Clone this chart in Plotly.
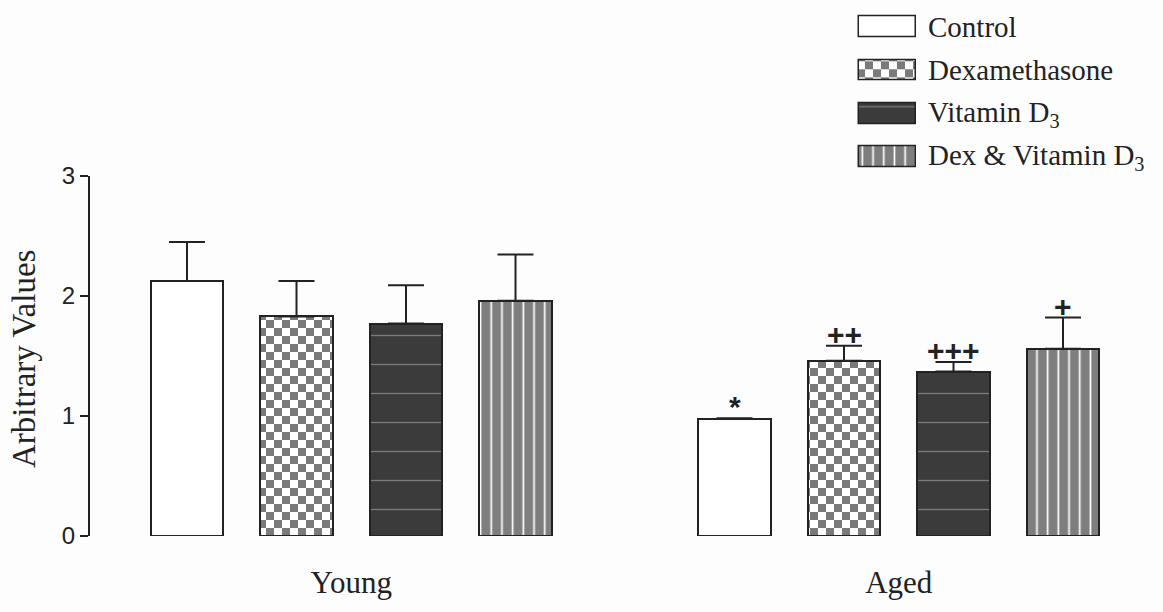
import plotly.graph_objects as go
from plotly.graph_objs.bar.marker import Pattern

# ---------------- data ----------------
groups = ["Young", "Aged"]
series = ["Control", "Dexamethasone", "Vitamin D<sub>3</sub>", "Dex &amp; Vitamin D<sub>3</sub>"]
young_mean = [2.125, 1.83, 1.77, 1.96]
young_err = [0.325, 0.295, 0.32, 0.385]
aged_mean = [0.975, 1.46, 1.37, 1.56]
aged_err = [0.006, 0.125, 0.08, 0.26]
aged_marks = ["*", "++", "+++", "+"]
young_marks = ["", "", "", ""]
y_ticks = [0, 1, 2, 3]
y_title = "Arbitrary Values"

means = [young_mean, aged_mean]
errs = [young_err, aged_err]
marks = [young_marks, aged_marks]

# ---------------- styles ----------------
W, H = 1163, 612
INK = "#222222"
BG = "#fdfdfd"
HAS_PATH = "path" in getattr(Pattern, "_valid_props", set())

checker = dict(shape=".", fgcolor="#7a7a7a", bgcolor="#ffffff", size=11, solidity=0.5, fillmode="replace")
if HAS_PATH:
    checker = dict(path="M0,0H8V8H0ZM8,8H16V16H8Z", fgcolor="#7a7a7a", bgcolor="#ffffff", size=16, fillmode="replace")

styles = [
    dict(color="#ffffff", pattern=dict(shape="")),
    dict(color="#ffffff", pattern=checker),
    dict(color="#3b3b3b", pattern=dict(shape="-", fgcolor="#c8c8c8", bgcolor="#3b3b3b", fgopacity=0.45,
                                       size=29, solidity=0.045, fillmode="replace")),
    dict(color="#7e7e7e", pattern=dict(shape="|", fgcolor="#ffffff", bgcolor="#7e7e7e", fgopacity=1,
                                       size=10.7, solidity=0.16, fillmode="replace")),
]

n = len(series)
step = n + 1
bar_w = 0.66
unit_px = 109.5
x_lo = -(187 - 90) / unit_px
x_hi = x_lo + (1123 - 90) / unit_px
group_centers = [g * step + (n - 1) / 2 for g in range(len(groups))]

fig = go.Figure()
for i, name in enumerate(series):
    xs = [g * step + i for g in range(len(groups))]
    ys = [means[g][i] for g in range(len(groups))]
    es = [errs[g][i] for g in range(len(groups))]
    fig.add_trace(go.Bar(
        x=xs, y=ys, width=bar_w, name=name, showlegend=False, cliponaxis=False,
        marker=dict(color=styles[i]["color"], pattern=styles[i]["pattern"],
                    line=dict(color=INK, width=2)),
        error_y=dict(type="data", array=es, arrayminus=[0] * len(es), symmetric=False,
                     color=INK, thickness=2, width=18),
        xaxis="x", yaxis="y",
    ))

# legend swatches drawn as bars on a small auxiliary axis
for i, name in enumerate(series):
    fig.add_trace(go.Bar(
        x=[1], y=[i], orientation="h", width=0.48, showlegend=False, cliponaxis=False,
        marker=dict(color=styles[i]["color"], pattern=styles[i]["pattern"],
                    line=dict(color=INK, width=1.5)),
        xaxis="x2", yaxis="y2", hoverinfo="skip",
    ))

annotations = []
for g in range(len(groups)):
    for i in range(n):
        if marks[g][i]:
            annotations.append(dict(
                x=g * step + i, y=means[g][i] + errs[g][i], xref="x", yref="y",
                text="<b>" + marks[g][i] + "</b>", showarrow=False, yanchor="bottom", yshift=-7,
                font=dict(family="Arial, Liberation Sans", size=30, color=INK)))

for i, name in enumerate(series):
    annotations.append(dict(
        x=926 / W, y=i, xref="paper", yref="y2", text=name, showarrow=False,
        xanchor="left", yanchor="middle",
        font=dict(family="Liberation Serif, Times New Roman", size=29, color=INK)))

annotations.append(dict(
    x=24 / W, y=(H - 359) / H, xref="paper", yref="paper", text=y_title, showarrow=False,
    textangle=-90, xanchor="center", yanchor="middle",
    font=dict(family="Liberation Serif, Times New Roman", size=33, color=INK)))

fig.update_layout(
    width=W, height=H, margin=dict(l=0, r=0, t=0, b=0),
    paper_bgcolor=BG, plot_bgcolor="rgba(0,0,0,0)",
    showlegend=False, barmode="overlay", bargap=0,
    annotations=annotations,
    xaxis=dict(domain=[90 / W, 1123 / W], range=[x_lo, x_hi], tickvals=group_centers, ticktext=groups,
               showline=False, ticks="", showgrid=False, zeroline=False, automargin=False,
               tickfont=dict(family="Liberation Serif, Times New Roman", size=31, color=INK),
               ticklabelstandoff=25, anchor="y"),
    yaxis=dict(domain=[(H - 536) / H, (H - 176) / H], range=[0, 3], tickvals=y_ticks,
               showline=True, linecolor=INK, linewidth=2, ticks="outside", ticklen=8, tickwidth=2,
               tickcolor=INK, showgrid=False, zeroline=False, automargin=False,
               tickfont=dict(family="Arial, Liberation Sans", size=24, color=INK),
               ticklabelstandoff=0, anchor="x"),
    xaxis2=dict(domain=[857 / W, 918 / W], range=[-0.03, 1.03], visible=False, anchor="y2"),
    yaxis2=dict(domain=[1 - 178.7 / H, 1 - 5.3 / H], range=[3.5, -0.5], visible=False, anchor="x2"),
)

fig.write_html("out.html", config={"displayModeBar": False},
               post_script="document.body.style.margin='0px';document.body.style.overflow='hidden';")
